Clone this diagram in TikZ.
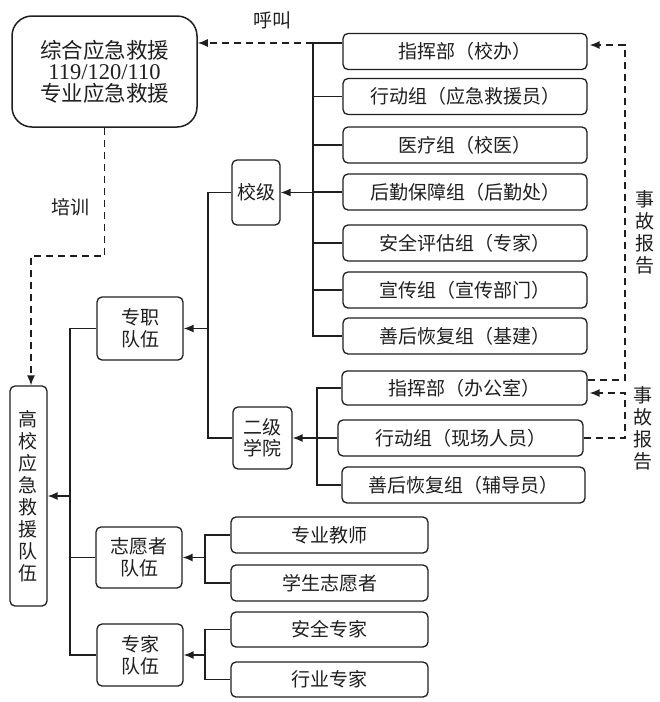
\documentclass[tikz,border=0pt]{standalone}
\usepackage{fontspec}
\setmainfont{Noto Sans CJK SC}
\newfontfamily\numfont{Liberation Serif}
\usetikzlibrary{arrows.meta}
\colorlet{ink}{black!88}
\tikzset{
  box/.style={draw=ink, line width=1.3pt, rounded corners=5pt, fill=white, inner sep=0pt,
    align=center, text=ink, font=\fontsize{19}{21.5}\selectfont},
  bigbox/.style={box, rounded corners=20pt, line width=1.5pt, font=\fontsize{21.5}{21.5}\selectfont},
  lbl/.style={text=ink, inner sep=0pt, align=center, font=\fontsize{19}{22}\selectfont},
  conn/.style={draw=ink, line width=1.4pt},
  arr/.style={conn, -{Latex[length=10pt,width=8pt]}},
  dasharr/.style={conn, dash pattern=on 7pt off 5pt, -{Latex[length=10pt,width=8pt]}},
}
\begin{document}
\begin{tikzpicture}[x=1pt,y=-1pt]
\fill[white] (0,0) rectangle (660,702);
\useasboundingbox (0,0) rectangle (660,702);

% main boxes
\node[bigbox, minimum width=185pt, minimum height=111pt] (big) at (104.5,71.5)
  {综合应急救援\\{\numfont\fontsize{22.5}{21.5}\selectfont 119/120/110}\\专业应急救援};

\node[box, minimum width=244pt, minimum height=36pt] (a1) at (465,51.5) {指挥部（校办）};
\node[box, minimum width=244pt, minimum height=36pt] (a2) at (465,96.5) {行动组（应急救援员）};
\node[box, minimum width=244pt, minimum height=36pt] (a3) at (465,145) {医疗组（校医）};
\node[box, minimum width=244pt, minimum height=36pt] (a4) at (465,192) {后勤保障组（后勤处）};
\node[box, minimum width=244pt, minimum height=36pt] (a5) at (465,243) {安全评估组（专家）};
\node[box, minimum width=244pt, minimum height=36pt] (a6) at (465,290) {宣传组（宣传部门）};
\node[box, minimum width=244pt, minimum height=36pt] (a7) at (465,336) {善后恢复组（基建）};

\node[box, minimum width=48pt, minimum height=65pt] (xj) at (256,192.5) {校级};
\node[box, minimum width=59pt, minimum height=62pt] (ej) at (262.5,438) {二级\\学院};

\node[box, minimum width=245pt, minimum height=34pt] (b1) at (464.5,388) {指挥部（办公室）};
\node[box, minimum width=245pt, minimum height=36pt] (b2) at (460.5,438) {行动组（现场人员）};
\node[box, minimum width=243pt, minimum height=36pt] (b3) at (463.5,485) {善后恢复组（辅导员）};

\node[box, minimum width=86pt, minimum height=63pt] (zz) at (140,328.5) {专职\\队伍};
\node[box, minimum width=86pt, minimum height=61pt] (zy) at (139,557.5) {志愿者\\队伍};
\node[box, minimum width=86pt, minimum height=62pt] (zj) at (140,655) {专家\\队伍};

\node[box, minimum width=37pt, minimum height=220pt, font=\fontsize{19}{22}\selectfont] (gx) at (28.5,496)
  {高\\校\\应\\急\\救\\援\\队\\伍};

\node[box, minimum width=197pt, minimum height=36pt] (c1) at (329.5,535) {专业教师};
\node[box, minimum width=197pt, minimum height=36pt] (c2) at (329.5,583) {学生志愿者};
\node[box, minimum width=197pt, minimum height=35pt] (c3) at (329.5,629.5) {安全专家};
\node[box, minimum width=197pt, minimum height=35pt] (c4) at (329.5,679.5) {行业专家};

% labels
\node[lbl] (hj) at (272,20) {呼叫};
\node[lbl] (px) at (70,207) {培训};
\node[lbl] (s1) at (645,232) {事\\故\\报\\告};
\node[lbl] (s2) at (643,428) {事\\故\\报\\告};

% junction coordinates
\coordinate (ta) at (313,43);
\coordinate (tcx) at (208,0);
\coordinate (tdx) at (317,0);
\coordinate (tex) at (70,0);
\coordinate (tfx) at (205,0);
\coordinate (p2) at (31,256);
\coordinate (r1) at (625,380);
\coordinate (r2) at (625,45);
\coordinate (r3) at (625,393);

% school-level trunk
\draw[conn] (a1.west |- ta) -- (ta) |- (a7.west);
\foreach \n in {a2,a3,a4,a5,a6} \draw[conn] (\n.west) -- (\n.west -| ta);
\draw[arr] (xj.east -| ta) -- (xj.east);
\draw[dasharr] (ta) -- (ta -| big.east);

% xj / ej to zz
\draw[conn] (xj.west) -| (tcx |- ej.west) -- (ej.west);
\draw[arr] (zz.east -| tcx) -- (zz.east);

% college trunk
\draw[conn] (b1.west) -| (tdx |- b3.west) -- (b3.west);
\draw[conn] (b2.west) -- (b2.west -| tdx);
\draw[arr] (ej.east -| tdx) -- (ej.east);

% main trunk
\draw[conn] (zz.west) -| (tex |- zj.west) -- (zj.west);
\draw[conn] (zy.west) -- (zy.west -| tex);
\draw[arr] (gx.east -| tex) -- (gx.east);

% volunteers and experts
\draw[conn] (c1.west) -| (tfx |- c2.west) -- (c2.west);
\draw[arr] (zy.east -| tfx) -- (zy.east);
\draw[conn] (c3.west) -| (tfx |- c4.west) -- (c4.west);
\draw[arr] (zj.east -| tfx) -- (zj.east);

% training
\draw[dasharr] (big.south) |- (p2) -- (p2 |- gx.north);

% accident reports
\draw[dasharr, shorten >=2pt] (r1 -| b1.east) -- (r1) -- (r2) -- (r2 -| a1.east);
\draw[dasharr, shorten >=2pt] (b2.east) -| (r3) -- (r3 -| b1.east);
\end{tikzpicture}
\end{document}
